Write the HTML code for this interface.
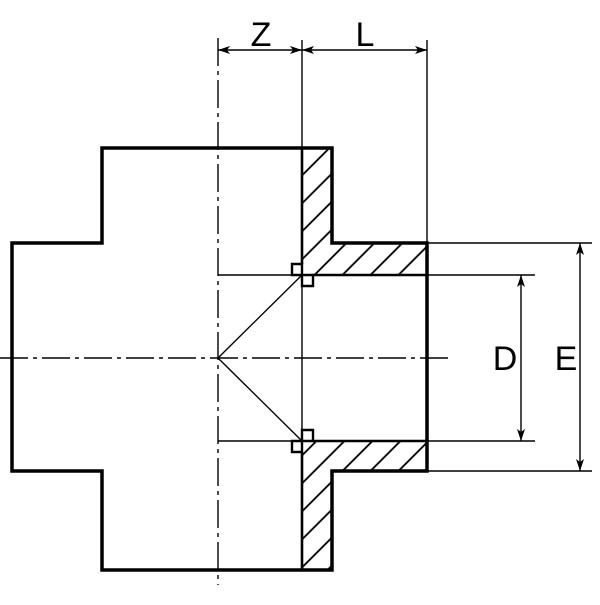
<!DOCTYPE html><html><head><style>body{margin:0;background:#fff}</style></head><body>
<svg width="600" height="600" viewBox="0 0 600 600" xmlns="http://www.w3.org/2000/svg">
<defs>
<marker id="a" viewBox="0 0 12 8" refX="12" refY="4" markerWidth="12" markerHeight="8" orient="auto-start-reverse" markerUnits="userSpaceOnUse"><path d="M0,0 L12,4 L0,8 L3,4z" fill="#000"/></marker>
<clipPath id="h1"><path d="M302,148 H332 V243 H427 V275 H313 V286 H302 Z"/></clipPath>
<clipPath id="h2"><path d="M302,570 H332 V471 H427 V441 H313 V430 H302 Z"/></clipPath>
<pattern id="p" width="19.8" height="28" patternUnits="userSpaceOnUse" patternTransform="rotate(45)"><line x1="1" y1="0" x2="1" y2="28" stroke="#000" stroke-width="1.8"/></pattern>
</defs>
<rect x="290" y="140" width="150" height="150" fill="url(#p)" clip-path="url(#h1)"/>
<rect x="290" y="425" width="150" height="150" fill="url(#p)" clip-path="url(#h2)"/>
<g stroke="#000" fill="none" stroke-width="1.4">
<line x1="218" y1="38" x2="218" y2="585" stroke-dasharray="28,5,4,5"/>
<line x1="0" y1="358" x2="450" y2="358" stroke-dasharray="28,5,4,5"/>
<line x1="302" y1="40" x2="302" y2="570"/>
<line x1="427" y1="40" x2="427" y2="243"/>
<line x1="218" y1="275" x2="535" y2="275"/>
<line x1="218" y1="441" x2="535" y2="441"/>
<line x1="427" y1="243" x2="592" y2="243"/>
<line x1="427" y1="471" x2="592" y2="471"/>
<line x1="218" y1="358" x2="302" y2="275"/>
<line x1="218" y1="358" x2="302" y2="441"/>
<line x1="218" y1="50" x2="302" y2="50" marker-start="url(#a)" marker-end="url(#a)"/>
<line x1="302" y1="50" x2="427" y2="50" marker-start="url(#a)" marker-end="url(#a)"/>
<line x1="521" y1="275" x2="521" y2="441" marker-start="url(#a)" marker-end="url(#a)"/>
<line x1="580" y1="243" x2="580" y2="471" marker-start="url(#a)" marker-end="url(#a)"/>
</g>
<g stroke="#000" fill="none" stroke-width="3.5" stroke-linejoin="miter">
<path d="M102,148 H332 V243 H427 V471 H332 V570 H102 V471 H12 V243 H102 Z"/>
<path d="M313,275 H427 M313,441 H427 M302,148 V264 M302,452 V570" stroke-width="2.6"/>
</g>
<g stroke="#000" fill="#fff" stroke-width="2.4">
<path d="M292,264 H302 V275 H313 V286 H302 V275 H292 Z"/>
<path d="M292,452 H302 V441 H313 V430 H302 V441 H292 Z"/>
</g>
<g font-family="Liberation Sans, sans-serif" font-size="34" fill="#000" text-anchor="middle">
<text x="261" y="46">Z</text>
<text x="365" y="46">L</text>
<text x="505" y="370">D</text>
<text x="566" y="370">E</text>
</g>
</svg>
</body></html>
